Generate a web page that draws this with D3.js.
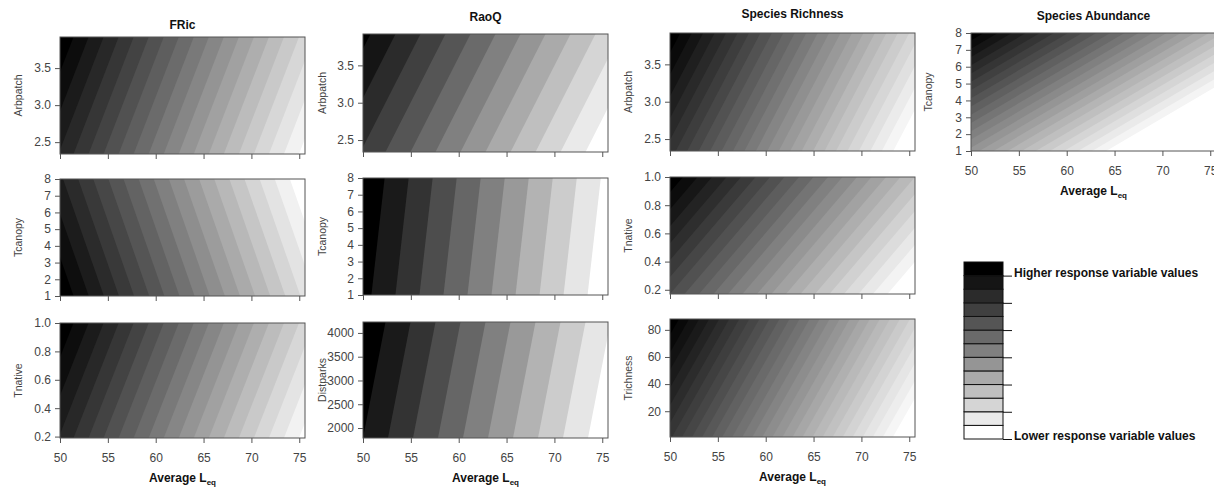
<!DOCTYPE html>
<html>
<head>
<meta charset="utf-8">
<script src="https://cdn.jsdelivr.net/npm/d3@7"></script>
<style>
  body { margin: 0; background: #fff; }
  svg { display: block; font-family: "Liberation Sans", Arial, sans-serif; }
</style>
</head>
<body>
<svg id="chart" width="1214" height="487"></svg>
<script>
// response variable shown in each column
const responses = ["FRic", "RaoQ", "Species Richness", "Species Abundance"];

// one entry per panel
const panelResponse = [0, 0, 0, 1, 1, 1, 2, 2, 2, 3];
const panelRow = [0, 1, 2, 0, 1, 2, 0, 1, 2, 0];
const predictors = ["Arbpatch", "Tcanopy", "Tnative", "Arbpatch", "Tcanopy", "Distparks",
                    "Arbpatch", "Tnative", "Trichness", "Tcanopy"];
const predMin = [2.34, 1, 0.19, 2.34, 1, 1790, 2.34, 0.17, 1, 1];
const predMax = [3.92, 8, 1.0, 3.92, 8, 4230, 3.92, 1.0, 88, 8];
const predTicks = [
  [2.5, 3.0, 3.5], [1, 2, 3, 4, 5, 6, 7, 8], [0.2, 0.4, 0.6, 0.8, 1.0],
  [2.5, 3.0, 3.5], [1, 2, 3, 4, 5, 6, 7, 8], [2000, 2500, 3000, 3500, 4000],
  [2.5, 3.0, 3.5], [0.2, 0.4, 0.6, 0.8, 1.0], [20, 40, 60, 80],
  [1, 2, 3, 4, 5, 6, 7, 8]
];

// average Leq axis
const leqDomain = [50, 75.6];
const leqTicks = [50, 55, 60, 65, 70, 75];

// predicted response at the panel corners, in contour-level units (0 = lowest level)
const nLevels      = [20, 19, 20, 13, 11, 11, 26, 23, 30, 25];
const zTopLeft     = [19.9, 16.2, 19.9, 12.3, 10.9, 10.9, 25.9, 22.9, 29.9, 24.9];
const zTopRight    = [3.6, 0.0, 3.6, 2.5, 0.7, 1.1, 4.5, 6.0, 5.5, 7.5];
const zBottomLeft  = [16.9, 18.9, 16.9, 9.9, 10.35, 10.0, 20.5, 16.0, 23.2, 10.6];
const zBottomRight = [0.6, 2.7, 0.6, 0.1, 0.15, 0.2, -0.9, -0.9, -1.2, -6.8];

// legend
const legendLevels = 13;
const legendLabels = ["Higher response variable values", "Lower response variable values"];

// layout
const colLeft = [60, 363, 670, 971];
const plotW = 245;
const colTops = [[37, 179, 323], [34, 178, 322], [33, 177, 319], [33]];
const colBottoms = [[154, 296, 438], [152, 295, 438], [151, 294, 437], [151]];
const titleY = [29, 21, 18, 20];
const ylabX = [18, 322, 628, 928];

const svg = d3.select("#chart");
const defs = svg.append("defs");

responses.forEach((name, c) => {
  svg.append("text")
    .attr("x", colLeft[c] + plotW / 2)
    .attr("y", titleY[c])
    .attr("text-anchor", "middle")
    .attr("font-size", 12)
    .attr("font-weight", "bold")
    .attr("fill", "#111")
    .text(name);
});

predictors.forEach((pred, i) => {
  const c = panelResponse[i], r = panelRow[i];
  const left = colLeft[c], right = left + plotW;
  const top = colTops[c][r], bottom = colBottoms[c][r];

  const x = d3.scaleLinear().domain(leqDomain).range([left, right]);
  const y = d3.scaleLinear().domain([predMin[i], predMax[i]]).range([bottom, top]);

  // grid coords (0.5..1.5) -> data space -> pixels
  const toData = (gx, gy) => [
    leqDomain[0] + (gx - 0.5) * (leqDomain[1] - leqDomain[0]),
    predMax[i] - (gy - 0.5) * (predMax[i] - predMin[i])
  ];
  const path = d3.geoPath(d3.geoTransform({
    point(gx, gy) {
      const [lx, py] = toData(gx, gy);
      this.stream.point(x(lx), y(py));
    }
  }));

  const n = nLevels[i];
  const grey = d3.scaleLinear().domain([0, n - 1]).range(["#ffffff", "#000000"]);
  const grid = [zTopLeft[i], zTopRight[i], zBottomLeft[i], zBottomRight[i]];
  const bands = d3.contours().size([2, 2]).thresholds(d3.range(0, n))(grid);

  defs.append("clipPath").attr("id", "clip" + i)
    .append("rect")
    .attr("x", left).attr("y", top)
    .attr("width", right - left).attr("height", bottom - top);

  const g = svg.append("g").attr("clip-path", `url(#clip${i})`);
  g.append("rect")
    .attr("x", left).attr("y", top)
    .attr("width", right - left).attr("height", bottom - top)
    .attr("fill", grey(0));
  g.selectAll("path")
    .data(bands)
    .join("path")
    .attr("d", path)
    .attr("fill", d => grey(d.value));

  // frame
  svg.append("rect")
    .attr("x", left).attr("y", top)
    .attr("width", right - left).attr("height", bottom - top)
    .attr("fill", "none")
    .attr("stroke", "#555")
    .attr("stroke-width", 1);

  const showX = (r === 2) || (c === 3);
  const xAxis = svg.append("g")
    .attr("transform", `translate(0,${bottom})`)
    .call(d3.axisBottom(x).tickValues(leqTicks).tickSize(5).tickPadding(10)
      .tickFormat(showX ? d3.format("d") : () => ""));
  const yAxis = svg.append("g")
    .attr("transform", `translate(${left},0)`)
    .call(d3.axisLeft(y).tickValues(predTicks[i]).tickSize(5).tickPadding(4)
      .tickFormat(predMax[i] < 5 ? d3.format(".1f") : d3.format("d")));
  [xAxis, yAxis].forEach(ax => {
    ax.select(".domain").remove();
    ax.selectAll(".tick line").attr("stroke", "#555");
    ax.selectAll(".tick text")
      .attr("font-size", 12)
      .attr("font-family", "Liberation Sans, Arial, sans-serif")
      .attr("fill", "#444");
  });

  svg.append("text")
    .attr("transform", `translate(${ylabX[c]},${(top + bottom) / 2}) rotate(-90)`)
    .attr("text-anchor", "middle")
    .attr("dy", "0.35em")
    .attr("font-size", 10.5)
    .attr("fill", "#444")
    .text(pred);

  if (showX) {
    const t = svg.append("text")
      .attr("x", (left + right) / 2)
      .attr("y", bottom + 44)
      .attr("text-anchor", "middle")
      .attr("font-size", 12)
      .attr("font-weight", "bold")
      .attr("fill", "#111");
    t.append("tspan").text("Average L");
    t.append("tspan").attr("font-size", 8).attr("dy", 3).text("eq");
  }
});

// legend
const legX = 964, legW = 39, legTop = 262, legBottom = 439;
const ly = d3.scaleLinear().domain([legendLevels, 0]).range([legTop, legBottom]);
const legGrey = d3.scaleLinear().domain([0, legendLevels - 1]).range(["#ffffff", "#000000"]);
svg.append("g").selectAll("rect")
  .data(d3.range(legendLevels))
  .join("rect")
  .attr("x", legX)
  .attr("y", d => ly(d + 1))
  .attr("width", legW)
  .attr("height", d => ly(d) - ly(d + 1))
  .attr("fill", d => legGrey(d))
  .attr("stroke", "#111")
  .attr("stroke-width", 1);

const legAxis = svg.append("g")
  .attr("transform", `translate(${legX + legW},0)`)
  .call(d3.axisRight(ly).tickValues([12, 10, 8, 6, 4, 2, 0]).tickSize(9).tickFormat(""));
legAxis.select(".domain").remove();
legAxis.selectAll(".tick line").attr("stroke", "#111");

[12, 0].forEach((v, k) => {
  svg.append("text")
    .attr("x", legX + legW + 11)
    .attr("y", ly(v) + 1)
    .attr("font-size", 12)
    .attr("font-weight", "bold")
    .attr("fill", "#111")
    .text(legendLabels[k]);
});
</script>
</body>
</html>
